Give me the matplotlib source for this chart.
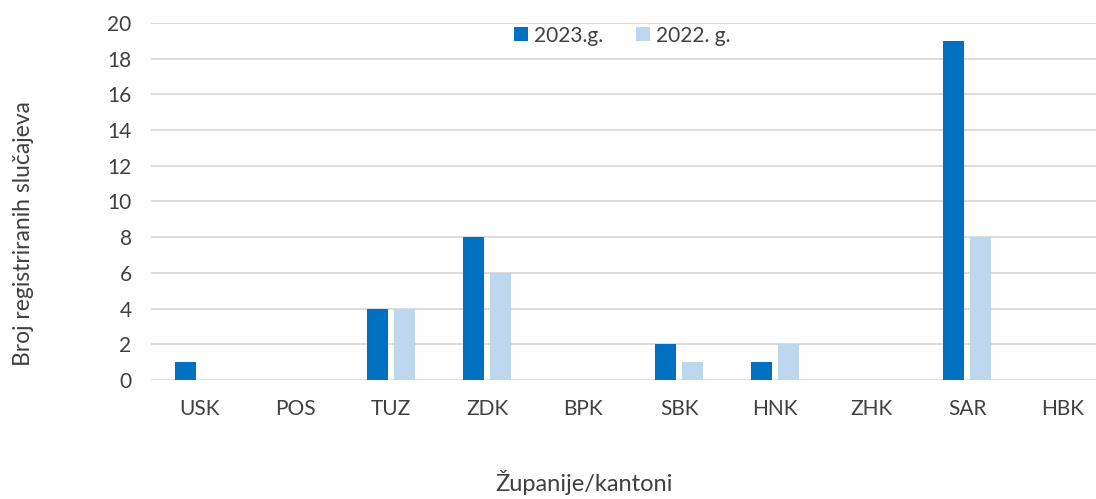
import numpy as np
import matplotlib.pyplot as plt

plt.rcParams['font.family'] = ['Lato', 'DejaVu Sans']

kantoni = ['USK', 'POS', 'TUZ', 'ZDK', 'BPK', 'SBK', 'HNK', 'ZHK', 'SAR', 'HBK']
god_2023 = [1, 0, 4, 8, 0, 2, 1, 0, 19, 0]
god_2022 = [0, 0, 4, 6, 0, 1, 2, 0, 8, 0]

txt = '#404040'

fig = plt.figure(figsize=(10.96, 4.99), dpi=100)
# plot area runs past the right edge of the picture, as in the original
ax = fig.add_axes([0.1378, 0.2385, 0.876, 0.7155])

x = np.arange(len(kantoni))
w = 0.22
ax.bar(x - 0.143, god_2023, w, color='#0070C0', label='2023.g.', zorder=3)
ax.bar(x + 0.143, god_2022, w, color='#BDD7EE', label='2022. g.', zorder=3)

ax.set_xlim(-0.5, len(kantoni) - 0.5)
ax.set_ylim(0, 20)
ax.set_yticks(range(0, 21, 2))
ax.set_xticks(x)
ax.set_xticklabels(kantoni)
ax.yaxis.grid(True, color='#D9D9D9', linewidth=1.3, zorder=0)
ax.set_axisbelow(True)
for s in ax.spines.values():
    s.set_visible(False)
ax.tick_params(length=0, labelsize=15, colors=txt)
ax.tick_params(axis='x', pad=14)
ax.tick_params(axis='y', pad=14)

fig.text(0.021, 0.532, 'Broj registriranih slučajeva', rotation=90, ha='center', va='center',
         fontsize=16.5, color=txt)
fig.text(0.533, 0.033, 'Županije/kantoni', ha='center', va='center', fontsize=17, color=txt)

leg = ax.legend(loc='upper center', bbox_to_anchor=(0.491, 1.045), ncol=2, frameon=False,
                fontsize=15, handlelength=0.65, handleheight=0.65, columnspacing=1.6,
                handletextpad=0.3, labelcolor=txt)

fig.savefig('out.png', dpi=100)
